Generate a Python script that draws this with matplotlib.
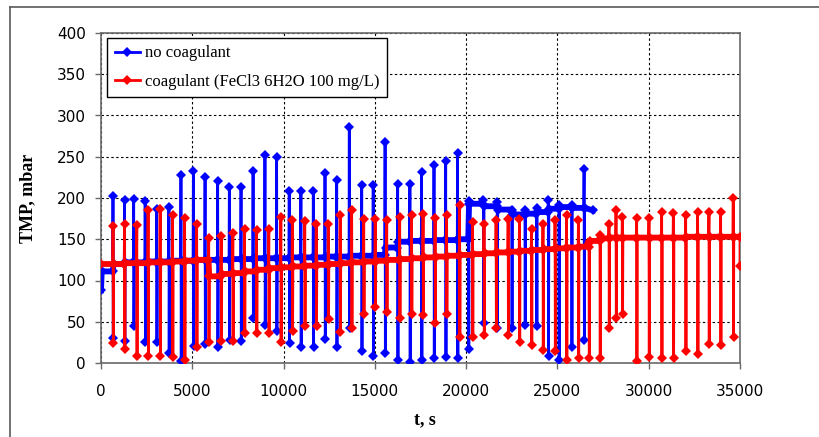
import matplotlib
matplotlib.use("Agg")
import matplotlib.pyplot as plt
from matplotlib.lines import Line2D

# ---- filtration cycles without coagulant: backwash time, spike max, spike min, level after backwash
blue_t = [657, 1290, 1790, 2420, 3050, 3720, 4380, 5060, 5700, 6390, 7030, 7670, 8330, 8980,
          9620, 10310, 10950, 11630, 12270, 12910, 13600, 14280, 14910, 15560, 16250, 16920,
          17560, 18240, 18880, 19530, 20130, 20950, 21700, 22500, 23220, 23860, 24500, 25080,
          25780, 26460]
blue_peak = [202, 198, 199, 196, 187, 189, 228, 233, 225, 221, 213, 213, 233, 252, 250, 208,
             209, 209, 230, 222, 286, 216, 216, 268, 217, 217, 232, 240, 245, 254, 196, 197,
             195, 183, 185, 188, 197, 191, 192, 235]
blue_trough = [30, 27, 45, 25, 26, 12, 2, 21, 23, 19, 28, 27, 54, 46, 39, 24, 20, 20, 29, 20,
               42, 14, 9, 12, 4, 1, 4, 6, 7, 6, 17, 48, 42, 42, 46, 45, 8, 4, 20, 28]
blue_base = [120, 122, 122, 123, 123, 124, 124, 125, 125, 125, 126, 126, 127, 127, 127, 128,
             128, 128, 129, 129, 130, 130, 131, 140, 147, 148, 148, 149, 149, 150, 193, 190,
             186, 180, 181, 183, 187, 189, 188, 188]
blue_start_t = [0, 40]
blue_start_v = [88, 111]
blue_end_t = [26950]
blue_end_v = [185]

# ---- filtration cycles with FeCl3 coagulant
red_t = [660, 1290, 1960, 2580, 3240, 3920, 4580, 5240, 5900, 6580, 7220, 7860, 8520, 9190,
         9850, 10480, 11160, 11790, 12450, 13100, 13730, 14390, 15020, 15650, 16360, 17010,
         17640, 18300, 18930, 19640, 20350, 20980, 21640, 22300, 22920, 23580, 24210, 24870,
         25500, 26150, 26730, 27330, 27825, 28210, 28555, 29340, 30015, 30710, 31350, 32025,
         32680, 33300, 33940, 34630]
red_peak = [166, 168, 167, 185, 187, 180, 176, 168, 152, 154, 157, 162, 161, 162, 177, 173,
            172, 169, 168, 179, 186, 174, 174, 173, 177, 180, 181, 176, 179, 191, 171, 169,
            173, 175, 174, 162, 169, 173, 179, 173, 145, 155, 168, 185, 177, 176, 176, 183,
            182, 180, 183, 183, 183, 200]
red_trough = [24, 17, 8, 9, 8, 7, 4, 19, 25, 27, 27, 36, 36, 36, 26, 39, 45, 45, 53, 38, 42,
              60, 68, 62, 55, 60, 58, 49, 60, 32, 32, 34, 42, 34, 26, 22, 16, 14, 4, 6, 6, 6,
              43, 55, 60, 2, 7, 6, 6, 15, 11, 23, 22, 31]
red_base = [120, 121, 121, 122, 122, 123, 124, 125, 105, 108, 109, 111, 113, 115, 116, 117,
            118, 119, 120, 121, 122, 123, 124, 125, 126, 127, 128, 129, 130, 131, 132, 133,
            134, 135, 136, 137, 138, 139, 140, 141, 148, 151, 152, 152, 152, 152, 152, 152,
            152, 153, 153, 153, 153, 153]
red_start_t = [0]
red_start_v = [120]
red_end_t = [35000, 35000]
red_end_v = [153, 118]

x_ticks = list(range(0, 35001, 5000))
y_ticks = list(range(0, 401, 50))


def cycle_trace(start_t, start_v, times, peaks, troughs, bases, end_t, end_v, dt=15):
    """Full TMP trace plus the filtration-run (between backwash) part on its own."""
    xs = list(start_t)
    ys = list(start_v)
    run_x = list(start_t)
    run_y = list(start_v)
    level = start_v[-1]
    for t, p, lo, b in zip(times, peaks, troughs, bases):
        xs += [t - dt, t, t + dt, t + 2 * dt]
        ys += [level, p, lo, b]
        run_x += [t - dt, t + 2 * dt]
        run_y += [level, b]
        level = b
    xs += list(end_t)
    ys += list(end_v)
    run_x += list(end_t[:1])
    run_y += list(end_v[:1])
    return xs, ys, run_x, run_y


fig = plt.figure(figsize=(8.19, 4.37), dpi=100)
ax = fig.add_axes([101 / 819, 1 - 363 / 437, 639 / 819, 330 / 437])

bx, by, brx, bry = cycle_trace(blue_start_t, blue_start_v, blue_t, blue_peak, blue_trough,
                               blue_base, blue_end_t, blue_end_v)
rx, ry, rrx, rry = cycle_trace(red_start_t, red_start_v, red_t, red_peak, red_trough,
                               red_base, red_end_t, red_end_v)

BLUE = "#0000FF"
RED = "#FF0000"

ax.plot(bx, by, color=BLUE, lw=2.0, marker="D", ms=4.6, mew=0,
        label="no coagulant", zorder=3)
ax.plot(brx, bry, color=BLUE, lw=4.2, solid_joinstyle="miter", zorder=3)
ax.plot(rx, ry, color=RED, lw=2.0, marker="D", ms=4.6, mew=0,
        label="coagulant (FeCl3 6H2O 100 mg/L)", zorder=4)
ax.plot(rrx, rry, color=RED, lw=4.2, solid_joinstyle="miter", zorder=4)

ax.set_xlim(0, 35000)
ax.set_ylim(0, 400)
ax.set_xticks(x_ticks)
ax.set_yticks(y_ticks)
ax.set_xticklabels([str(v) for v in x_ticks])
ax.set_yticklabels([str(v) for v in y_ticks])
ax.grid(True, color="black", linestyle=(0, (2.2, 2.2)), linewidth=0.8)
ax.set_axisbelow(True)

for s in ax.spines.values():
    s.set_color("#6a6a6a")
    s.set_linewidth(1.2)

ax.tick_params(axis="both", direction="out", length=4, width=1, color="#6a6a6a",
               labelsize=11, labelcolor="black")
ax.tick_params(axis="x", pad=11)
ax.tick_params(axis="y", pad=7)
for lab in ax.get_xticklabels() + ax.get_yticklabels():
    lab.set_fontfamily("DejaVu Sans")

ax.set_ylabel("TMP, mbar", fontsize=13, fontweight="bold", family="Liberation Serif")
ax.yaxis.set_label_coords(-0.102, 0.5)
ax.set_xlabel("t, s", fontsize=13, fontweight="bold", family="Liberation Serif", va="top")
ax.xaxis.set_label_coords(0.507, -0.145)

leg = ax.legend(loc="upper left", bbox_to_anchor=(0.0094, 0.985), borderaxespad=0,
                prop={"family": "Liberation Serif", "size": 12}, fancybox=False,
                framealpha=1, edgecolor="black", labelspacing=0.75, handlelength=1.5,
                handletextpad=0.3, borderpad=0.45)
leg.get_frame().set_linewidth(1.0)
leg.set_zorder(10)

# outer chart-area frame (left and top edges visible)
fig.add_artist(Line2D([10 / 819, 10 / 819], [0, 1 - 7 / 437], transform=fig.transFigure,
                      color="#5a5a5a", lw=1.2))
fig.add_artist(Line2D([10 / 819, 1], [1 - 7 / 437, 1 - 7 / 437], transform=fig.transFigure,
                      color="#5a5a5a", lw=1.2))

fig.savefig("out.png", dpi=100)
